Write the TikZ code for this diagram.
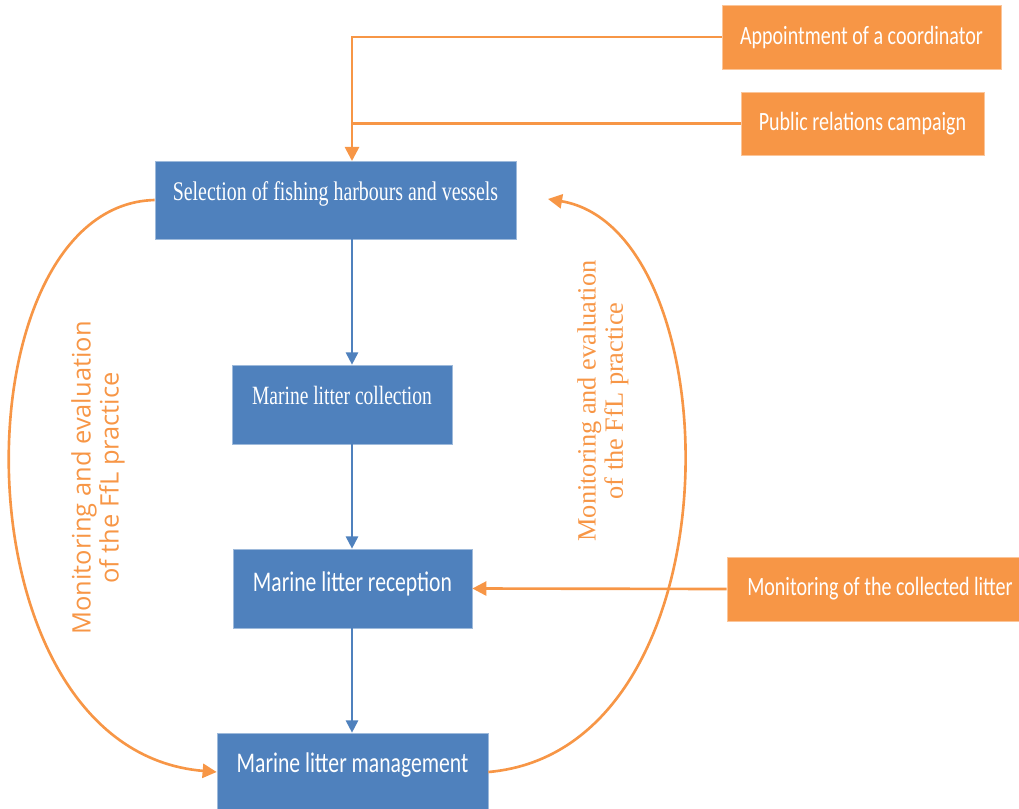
\documentclass[tikz,border=0pt]{standalone}
\usepackage{fontspec}
\setmainfont{Liberation Serif}
\newfontfamily\boxserif[FakeStretch=0.74]{Liberation Serif}
\newfontfamily\boxsans[FakeStretch=0.76]{Carlito}
\newfontfamily\notesans{Open Sans}
\newfontfamily\noteserif{Liberation Serif}
\usetikzlibrary{arrows.meta}

\definecolor{boxblue}{HTML}{4F81BD}
\definecolor{boxorange}{HTML}{F79646}

\tikzset{
  bluebox/.style={rectangle, fill=boxblue, draw=boxblue!55!white, line width=0.4pt,
    text=white, inner sep=0pt, text height=0.3cm, text depth=0.3cm},
  orangebox/.style={rectangle, fill=boxorange, draw=boxorange!55!white, line width=0.4pt,
    text=white, inner sep=0pt, font=\boxsans\fontsize{15}{18}\selectfont},
  bluearrow/.style={draw=boxblue, line width=1.1pt, -{Triangle[length=7pt,width=7pt]}},
  orangeline/.style={draw=boxorange, line width=1.5pt},
  orangearrow/.style={orangeline, -{Triangle[length=8pt,width=8pt]}},
  loopnote/.style={text=boxorange, rotate=90, align=center}
}

\begin{document}
\begin{tikzpicture}[x=0.02cm,y=-0.02cm]
    \useasboundingbox (0,0) rectangle (1019,809);

    % orange inputs
    \node[orangebox,minimum width=5.58cm,minimum height=1.28cm] (coord) at (861.5,37) {Appointment of a coordinator};
    \node[orangebox,minimum width=4.86cm,minimum height=1.26cm] (prc) at (862.5,123.5) {Public relations campaign};
    \node[orangebox,minimum width=6.12cm,minimum height=1.28cm] (mon) at (880,589) {Monitoring of the collected litter};

    % main steps
    \node[bluebox,minimum width=7.22cm,minimum height=1.56cm,font=\boxserif\fontsize{15.3}{18}\selectfont] (sel) at (335.5,200) {Selection of fishing harbours and vessels};
    \node[bluebox,minimum width=4.40cm,minimum height=1.58cm,font=\boxserif\fontsize{15}{18}\selectfont] (coll) at (342,404.5) {Marine litter collection};
    \node[bluebox,minimum width=4.78cm,minimum height=1.58cm,text depth=0.2cm,font=\boxsans\fontsize{16.2}{19}\selectfont] (rec) at (352.5,588.5) {Marine litter reception};
    \node[bluebox,minimum width=5.42cm,minimum height=1.56cm,font=\boxsans\fontsize{16.2}{19}\selectfont] (mgmt) at (352.5,772) {Marine litter management};

    \coordinate (hub) at (352,161);

    \draw[orangearrow] (coord.west) -| (hub);
    \draw[orangeline] (prc.west) -- (prc.west -| hub);

    \draw[bluearrow] (sel.south -| hub) -- (coll.north -| hub);
    \draw[bluearrow] (coll.south -| hub) -- (rec.north -| hub);
    \draw[bluearrow] (rec.south -| hub) -- (mgmt.north -| hub);

    \draw[orangearrow] (mon.west) -- (rec.east);

    % feedback loops
    \coordinate (back) at (548,199);
    \draw[orangearrow] (sel.west) .. controls (-45,205) and (-50,750) .. (mgmt.west);
    \draw[orangearrow] (mgmt.east) .. controls (742,750) and (734,230) .. (back);

    \node[loopnote,font=\notesans\fontsize{14.5}{16}\selectfont] (noteL) at (98,478) {Monitoring and evaluation\\of the FfL practice};
    \node[loopnote,font=\noteserif\fontsize{15}{15.5}\selectfont] (noteR) at (603,401) {Monitoring and evaluation\\of the FfL practice};
\end{tikzpicture}
\end{document}
